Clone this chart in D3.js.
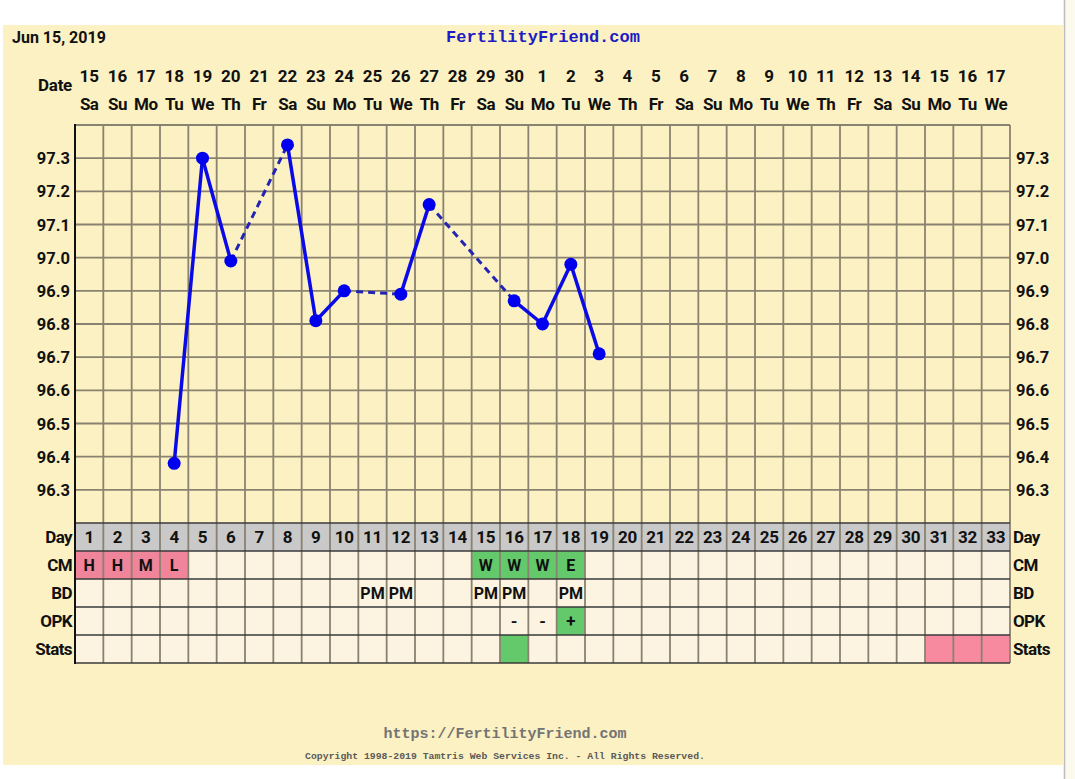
<!DOCTYPE html>
<html><head><meta charset="utf-8">
<script src="https://cdn.jsdelivr.net/npm/d3@7"></script>
<style>html,body{margin:0;padding:0;background:#fff;}svg{display:block;}</style>
</head><body>
<svg id="c" width="1075" height="779"></svg>
<script>
const chartDate = "Jun 15, 2019";
const cycleDays = [1,2,3,4,5,6,7,8,9,10,11,12,13,14,15,16,17,18,19,20,21,22,23,24,25,26,27,28,29,30,31,32,33];
const dateLabels = [15,16,17,18,19,20,21,22,23,24,25,26,27,28,29,30,1,2,3,4,5,6,7,8,9,10,11,12,13,14,15,16,17];
const dowLabels = ["Sa","Su","Mo","Tu","We","Th","Fr","Sa","Su","Mo","Tu","We","Th","Fr","Sa","Su","Mo","Tu","We","Th","Fr","Sa","Su","Mo","Tu","We","Th","Fr","Sa","Su","Mo","Tu","We"];
const tempTicks = [96.3,96.4,96.5,96.6,96.7,96.8,96.9,97.0,97.1,97.2,97.3];
const tempDays = [4,5,6,8,9,10,12,13,16,17,18,19];
const tempValues = [96.38,97.30,96.99,97.34,96.81,96.90,96.89,97.16,96.87,96.80,96.98,96.71];
const cmDays = [1,2,3,4,15,16,17,18];
const cmValues = ["H","H","M","L","W","W","W","E"];
const bdDays = [11,12,15,16,18];
const bdValues = ["PM","PM","PM","PM","PM"];
const opkDays = [16,17,18];
const opkValues = ["-","-","+"];
const statsGreenDays = [16];
const statsPinkDays = [31,32,33];
const rowNames = ["Day","CM","BD","OPK","Stats"];

(function(){
const svg = d3.select("#c");
const FONT = "Roboto, 'Liberation Sans', Arial, sans-serif";
const MONO = "'Liberation Mono', 'DejaVu Sans Mono', monospace";
const PINK = "#f0849a", GREEN = "#63c96b";

// backgrounds
svg.append("rect").attr("x",1065).attr("y",0).attr("width",10).attr("height",779).attr("fill","#fcf9ef");
svg.append("line").attr("x1",1064.5).attr("x2",1064.5).attr("y1",0).attr("y2",779).attr("stroke","#bdbdbd").attr("stroke-width",1.5);
svg.append("rect").attr("x",3).attr("y",25).attr("width",1060).attr("height",740).attr("fill","#fcf1c2");

const gL = 75, gR = 1010, gT = 125, tempBottom = 523, rowH = 28;
const x = d3.scaleBand().domain(cycleDays).range([gL, gR]);
const y = d3.scaleLinear().domain([96.2, 97.4]).range([tempBottom, gT]);
const rowY = d3.scaleBand().domain(rowNames).range([tempBottom, tempBottom + rowH*rowNames.length]);
const cx = d => x(d) + x.bandwidth()/2;

// header
svg.append("text").attr("x",12).attr("y",43).attr("font-family",FONT).attr("font-weight","bold").attr("font-size",16).attr("fill","#111").text(chartDate);
svg.append("text").attr("x",543).attr("y",42).attr("text-anchor","middle").attr("font-family",MONO).attr("font-weight","bold").attr("font-size",17).attr("fill","#1c1cc4").text("FertilityFriend.com");
svg.append("text").attr("x",72).attr("y",91).attr("text-anchor","end").attr("font-family",FONT).attr("font-weight","bold").attr("font-size",17).attr("letter-spacing",-0.3).attr("fill","#111").text("Date");

const hdr = svg.append("g").attr("font-family",FONT).attr("font-weight","bold").attr("font-size",17).attr("fill","#111").attr("text-anchor","middle");
cycleDays.forEach((d,i)=>{
  hdr.append("text").attr("x",cx(d)).attr("y",82).text(dateLabels[i]);
  hdr.append("text").attr("x",cx(d)).attr("y",110).attr("letter-spacing",-0.5).text(dowLabels[i]);
});

// temperature grid
const grid = svg.append("g");
grid.selectAll(".hl").data(tempTicks.concat([97.4])).join("line")
  .attr("x1",gL).attr("x2",gR).attr("y1",d=>y(d)).attr("y2",d=>y(d))
  .attr("stroke","#8a8270").attr("stroke-width",1.8);
grid.selectAll(".vl").data(cycleDays.slice(1).concat([null])).join("line")
  .attr("x1",d=> d===null ? gR : x(d)).attr("x2",d=> d===null ? gR : x(d))
  .attr("y1",gT).attr("y2",tempBottom).attr("stroke","#8a8270").attr("stroke-width",1.8);

// axes labels
const yl = svg.append("g").attr("font-family",FONT).attr("font-weight","bold").attr("font-size",16.5).attr("fill","#111");
tempTicks.forEach(t=>{
  yl.append("text").attr("x",70).attr("y",y(t)+6).attr("text-anchor","end").text(t.toFixed(1));
  yl.append("text").attr("x",1016).attr("y",y(t)+6).attr("text-anchor","start").text(t.toFixed(1));
});

// bottom table
const tbl = svg.append("g");
rowNames.forEach(r=>{
  tbl.selectAll(null).data(cycleDays).join("rect")
    .attr("x",d=>x(d)).attr("y",rowY(r)).attr("width",x.bandwidth()).attr("height",rowY.bandwidth())
    .attr("fill", r==="Day" ? "#c9c9c9" : "#fcf4e1");
});
function fillCells(row, days, color){
  tbl.selectAll(null).data(days).join("rect")
    .attr("x",d=>x(d)).attr("y",rowY(row)).attr("width",x.bandwidth()).attr("height",rowY.bandwidth()).attr("fill",color);
}
fillCells("CM", cmDays.filter((d,i)=>"HML".includes(cmValues[i])), PINK);
fillCells("CM", cmDays.filter((d,i)=>"WE".includes(cmValues[i])), GREEN);
fillCells("OPK", opkDays.filter((d,i)=>opkValues[i]==="+"), GREEN);
fillCells("Stats", statsGreenDays, GREEN);
fillCells("Stats", statsPinkDays, "#f88aa0");

// table grid lines
const tb = tempBottom + rowH*rowNames.length;
tbl.selectAll(null).data(cycleDays.slice(1).concat([null])).join("line")
  .attr("x1",d=> d===null ? gR : x(d)).attr("x2",d=> d===null ? gR : x(d))
  .attr("y1",tempBottom).attr("y2",tb).attr("stroke","#8a8270").attr("stroke-width",1.8);
tbl.selectAll(null).data(rowNames.concat(["end"])).join("line")
  .attr("x1",gL).attr("x2",gR)
  .attr("y1",d=> d==="end" ? tb : rowY(d)).attr("y2",d=> d==="end" ? tb : rowY(d))
  .attr("stroke","#3a3a3a").attr("stroke-width",1.6);
// left border
svg.append("line").attr("x1",gL).attr("x2",gL).attr("y1",gT-1).attr("y2",tb+1).attr("stroke","#111").attr("stroke-width",2);

// table texts
const tt = svg.append("g").attr("font-family",FONT).attr("font-weight","bold").attr("fill","#111");
cycleDays.forEach(d=>{
  tt.append("text").attr("x",cx(d)).attr("y",rowY("Day")+20).attr("text-anchor","middle").attr("font-size",17).attr("letter-spacing",-0.3).text(d);
});
function rowText(row, days, vals, size){
  days.forEach((d,i)=>{
    tt.append("text").attr("x",cx(d)).attr("y",rowY(row)+19.5).attr("text-anchor","middle").attr("font-size",size).text(vals[i]);
  });
}
rowText("CM", cmDays, cmValues, 16);
rowText("BD", bdDays, bdValues, 16);
rowText("OPK", opkDays, opkValues, 17);
rowNames.forEach(r=>{
  tt.append("text").attr("x",72).attr("y",rowY(r)+20).attr("text-anchor","end").attr("font-size",17).attr("letter-spacing",-0.6).text(r);
  tt.append("text").attr("x",1013).attr("y",rowY(r)+20).attr("text-anchor","start").attr("font-size",17).attr("letter-spacing",-0.6).text(r);
});

// temperature line
const pts = tempDays.map((d,i)=>({d, t:tempValues[i]}));
const lg = svg.append("g");
for (let i=1;i<pts.length;i++){
  const a=pts[i-1], b=pts[i];
  const gap = b.d - a.d > 1;
  lg.append("line").attr("x1",cx(a.d)).attr("y1",y(a.t)).attr("x2",cx(b.d)).attr("y2",y(b.t))
    .attr("stroke", gap ? "#2424b4" : "#0a0ae6")
    .attr("stroke-width", gap ? 3 : 3.5)
    .attr("stroke-dasharray", gap ? "7,5" : null);
}
lg.selectAll("circle").data(pts).join("circle").attr("cx",p=>cx(p.d)).attr("cy",p=>y(p.t)).attr("r",6.5).attr("fill","#0000ee");

// footer
svg.append("text").attr("x",505).attr("y",738).attr("text-anchor","middle").attr("font-family",MONO).attr("font-weight","bold").attr("font-size",15).attr("fill","#747474").text("https://FertilityFriend.com");
svg.append("text").attr("x",505).attr("y",759).attr("text-anchor","middle").attr("font-family",MONO).attr("font-weight","bold").attr("font-size",9.8).attr("fill","#5a5a5a").text("Copyright 1998-2019 Tamtris Web Services Inc. - All Rights Reserved.");
})();
</script>
</body></html>
